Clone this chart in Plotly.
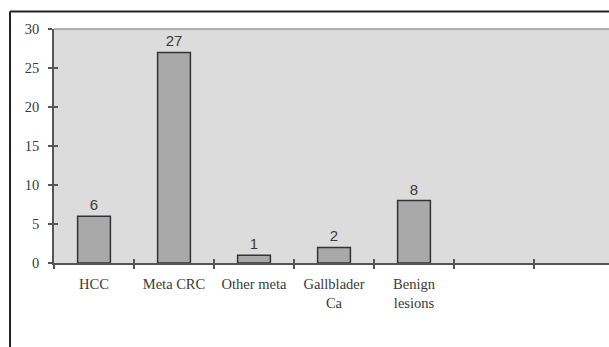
import plotly.graph_objects as go

# Diagnoses and counts
categories = ["HCC", "Meta CRC", "Other meta", "Gallblader<br>Ca", "Benign<br>lesions"]
counts = [6, 27, 1, 2, 8]
# two trailing empty slots on the category axis
axis_categories = categories + [" ", "  "]
y_ticks = [0, 5, 10, 15, 20, 25, 30]

W, H = 609, 347
L, T, B = 54, 29, 84
plot_w = W - L
x_range = [-0.5, -0.5 + plot_w / 80.0]

axis_col = "#555555"
text_col = "#3a3a3a"
serif = "Liberation Serif, Times New Roman, serif"

fig = go.Figure()
fig.add_trace(go.Bar(
    x=categories, y=counts, width=0.41,
    marker=dict(color="#a9a9a9", line=dict(color="#333333", width=1.5)),
    text=counts, textposition="outside", cliponaxis=False,
    textfont=dict(family="Liberation Sans, Arial, sans-serif", size=15, color=text_col),
))
# empty helpers so the overlay axes get drawn
fig.add_trace(go.Bar(x=[], y=[], xaxis="x2", yaxis="y", showlegend=False))
fig.add_trace(go.Bar(x=[], y=[], xaxis="x", yaxis="y2", showlegend=False))

common_x = dict(type="category", categoryorder="array", categoryarray=axis_categories,
                range=x_range, tickson="boundaries", fixedrange=True)
common_y = dict(range=[0, 30], tickvals=y_ticks, fixedrange=True, showgrid=False, zeroline=False)

fig.update_layout(
    width=W, height=H,
    margin=dict(l=L, r=0, t=T, b=B, pad=0),
    paper_bgcolor="white", plot_bgcolor="#dcdcdc",
    showlegend=False, bargap=0.59,
    xaxis=dict(**common_x, showline=True, linecolor=axis_col, linewidth=1.5,
               ticks="outside", ticklen=4, tickwidth=1.5, tickcolor=axis_col,
               ticklabelstandoff=7,
               tickfont=dict(family=serif, size=14.5, color=text_col), showgrid=False),
    xaxis2=dict(**common_x, overlaying="x", anchor="y", side="bottom", showline=False,
                ticks="inside", ticklen=4, tickwidth=1.5, tickcolor=axis_col,
                showticklabels=False, showgrid=False),
    yaxis=dict(**common_y, showline=True, linecolor=axis_col, linewidth=1.5,
               ticks="outside", ticklen=4, tickwidth=1.5, tickcolor=axis_col,
               ticklabelstandoff=6,
               tickfont=dict(family=serif, size=14.5, color=text_col)),
    yaxis2=dict(**common_y, overlaying="y", anchor="x", side="left", showline=False,
                ticks="inside", ticklen=4, tickwidth=1.5, tickcolor=axis_col,
                showticklabels=False),
    shapes=[
        # upper edge of the plotting area
        dict(type="line", xref="paper", yref="paper", x0=0, x1=1, y0=1, y1=1,
             line=dict(color="#9a9a9a", width=1.5)),
        # outer frame, left and top
        dict(type="line", xref="paper", yref="paper",
             x0=(10 - L) / plot_w, x1=(10 - L) / plot_w,
             y0=1 + (T - 11.5) / (H - T - B), y1=-B / (H - T - B) - 0.01,
             line=dict(color="#222222", width=2)),
        dict(type="line", xref="paper", yref="paper",
             x0=(10 - L) / plot_w, x1=1.01,
             y0=1 + (T - 11.5) / (H - T - B), y1=1 + (T - 11.5) / (H - T - B),
             line=dict(color="#222222", width=2)),
    ],
)

fig.write_html("out.html")
